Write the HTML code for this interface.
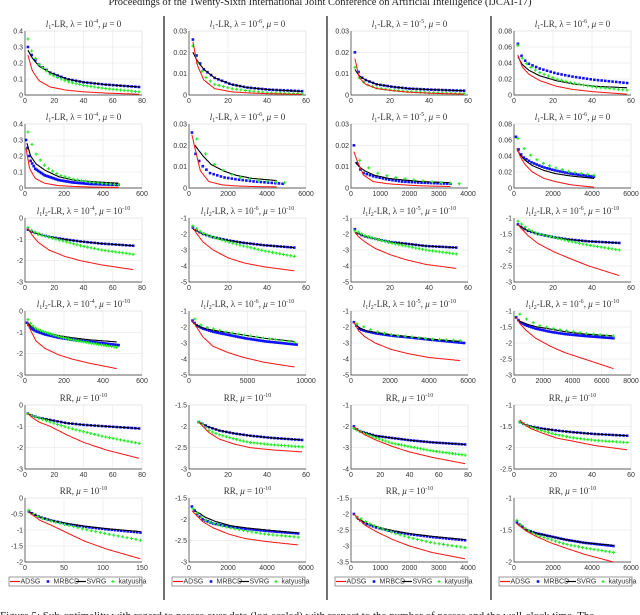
<!DOCTYPE html>
<html><head><meta charset="utf-8">
<style>
html,body{margin:0;padding:0;background:#fff;width:640px;height:615px;overflow:hidden}
svg{display:block}
text{font-family:"Liberation Serif",serif}
.tk{font-family:"Liberation Sans",sans-serif;font-size:7px;fill:#333}
</style></head><body>
<svg id="fig" width="640" height="615" viewBox="0 0 640 615" xmlns="http://www.w3.org/2000/svg">
<text x="320" y="5" text-anchor="middle" font-size="10.5" fill="#222">Proceedings of the Twenty-Sixth International Joint Conference on Artificial Intelligence (IJCAI-17)</text>
<line x1="164" y1="16" x2="164" y2="600" stroke="#444" stroke-width="1.5"/>
<line x1="327" y1="16" x2="327" y2="600" stroke="#444" stroke-width="1.5"/>
<line x1="491" y1="16" x2="491" y2="600" stroke="#444" stroke-width="1.5"/>
<text x="0" y="619" font-size="11" fill="#222">Figure 5: Sub-optimality with regard to passes over data (log-scaled) with respect to the number of passes and the wall-clock time. The</text>
</svg>
<script>
// sample fractions along each series' x-extent
const F=[0,.04,.1,.2,.35,.5,.7,1];
const colL=[25,189,351,514], AW=117, rowT=[31,124,218,311,405,498], AH=64;
// titles
const titles=[
["l1-LR","-4","0"],["l1-LR","-6","0"],["l1-LR","-5","0"],["l1-LR","-6","0"],
["l1-LR","-4","0"],["l1-LR","-6","0"],["l1-LR","-5","0"],["l1-LR","-6","0"],
["l1l2-LR","-4","-10"],["l1l2-LR","-6","-10"],["l1l2-LR","-5","-10"],["l1l2-LR","-6","-10"],
["l1l2-LR","-4","-10"],["l1l2-LR","-6","-10"],["l1l2-LR","-5","-10"],["l1l2-LR","-6","-10"],
["RR","","-10"],["RR","","-10"],["RR","","-10"],["RR","","-10"],
["RR","","-10"],["RR","","-10"],["RR","","-10"],["RR","","-10"]];
// x axis: [max, step]
const xAxes=[[80,20],[60,20],[60,20],[60,20],[600,200],[6000,2000],[4000,1000],[6000,2000],
[80,20],[60,20],[60,20],[60,20],[600,200],[10000,5000],[6000,2000],[8000,2000],
[80,20],[60,20],[80,20],[60,20],[150,50],[6000,2000],[4000,1000],[6000,2000]];
// y axis: [top, bottom, step]
const yAxes=[[.4,0,.1],[.03,0,.01],[.03,0,.01],[.08,0,.02],[.4,0,.1],[.03,0,.01],[.03,0,.01],[.08,0,.02],
[0,-3,1],[-1,-5,1],[-1,-5,1],[-1,-3,.5],[0,-3,1],[-1,-5,1],[-1,-5,1],[-1,-3,.5],
[0,-3,1],[-1.5,-3,.5],[-1,-4,1],[-1,-2.5,.5],[0,-2,.5],[-1.5,-3,.5],[-1.5,-3.5,.5],[-1,-2,.5]];
// series x-extents [start,end]
const adsgX=[[2,78],[2,58],[2,58],[2,58],[5,480],[150,4500],[100,3400],[150,4100],
[2,74],[2,54],[2,54],[2,54],[10,470],[300,9000],[150,5600],[150,6800],
[2,78],[5,58],[2,78],[3,58],[5,148],[150,5600],[100,3900],[150,5100]];
const mrbcdX=[[2,78],[2,58],[2,58],[2,58],[5,480],[150,4800],[100,3400],[100,4100],
[2,74],[2,54],[2,54],[2,54],[10,480],[300,9200],[150,5800],[150,6800],
[2,78],[5,58],[2,78],[3,58],[5,148],[150,5600],[100,3900],[150,5100]];
const svrgX=[[2,78],[2,58],[2,58],[2,58],[10,480],[300,4500],[150,3400],[150,4100],
[2,74],[2,54],[2,54],[2,54],[10,470],[300,9000],[300,5600],[300,6800],
[2,78],[5,58],[2,78],[3,58],[5,148],[300,5600],[200,3900],[150,5100]];
const katyX=[[2,78],[2,58],[2,58],[2,58],[15,480],[400,4900],[300,3700],[200,4100],
[2,74],[2,54],[2,54],[2,54],[15,470],[500,9000],[300,5600],[400,6800],
[2,78],[5,58],[2,78],[3,58],[5,148],[200,5600],[200,3900],[150,5100]];
// series values at the sample fractions
const adsg=[
[.25,.15,.09,.05,.03,.02,.012,.005],[.025,.014,.007,.003,.0015,.001,.0006,.0003],[.017,.008,.005,.003,.002,.0013,.0008,.0004],[.05,.035,.026,.018,.011,.007,.004,.001],
[.25,.12,.06,.03,.015,.01,.006,.004],[.025,.018,.008,.003,.0015,.001,.0007,.0005],[.017,.012,.006,.003,.002,.0015,.001,.0007],[.05,.04,.03,.02,.012,.008,.004,.001],
[-.5,-.8,-1.15,-1.5,-1.8,-2,-2.2,-2.42],[-1.6,-2,-2.5,-3,-3.5,-3.8,-4.05,-4.3],[-1.9,-2.2,-2.5,-2.9,-3.3,-3.6,-3.9,-4.15],[-1.2,-1.35,-1.55,-1.8,-2.05,-2.25,-2.5,-2.8],
[-.5,-.9,-1.4,-1.75,-2.05,-2.25,-2.45,-2.7],[-1.6,-2,-2.6,-3.2,-3.6,-3.9,-4.2,-4.5],[-1.7,-2.2,-2.6,-3,-3.4,-3.65,-3.9,-4.1],[-1.2,-1.4,-1.6,-1.85,-2.1,-2.3,-2.5,-2.8],
[-.4,-.6,-.8,-1,-1.4,-1.75,-2.1,-2.5],[-1.9,-2,-2.15,-2.3,-2.42,-2.5,-2.55,-2.6],[-2,-2.2,-2.4,-2.65,-2.95,-3.2,-3.45,-3.75],[-1.35,-1.45,-1.55,-1.65,-1.78,-1.85,-1.95,-2.05],
[-.45,-.55,-.7,-.85,-1.1,-1.35,-1.6,-1.9],[-1.8,-1.9,-2.05,-2.2,-2.35,-2.45,-2.52,-2.6],[-2,-2.15,-2.35,-2.55,-2.8,-3,-3.2,-3.4],[-1.4,-1.45,-1.52,-1.6,-1.7,-1.78,-1.88,-2]];
const mrbcd=[
[.30,.24,.19,.14,.10,.08,.065,.05],[.026,.017,.012,.008,.005,.0035,.0025,.0018],[.020,.009,.007,.005,.0038,.003,.0025,.002],[.064,.046,.039,.033,.027,.023,.019,.015],
[.30,.18,.12,.08,.05,.035,.025,.02],[.026,.016,.011,.007,.005,.004,.003,.002],[.020,.010,.007,.0055,.004,.003,.0025,.002],[.064,.045,.038,.032,.026,.022,.018,.014],
[-.55,-.65,-.75,-.88,-1,-1.1,-1.2,-1.3],[-1.6,-1.8,-2,-2.2,-2.4,-2.55,-2.7,-2.85],[-1.7,-2,-2.15,-2.3,-2.5,-2.6,-2.75,-2.85],[-1.2,-1.3,-1.4,-1.5,-1.6,-1.67,-1.73,-1.78],
[-.55,-.8,-.95,-1.1,-1.25,-1.35,-1.45,-1.6],[-1.6,-1.9,-2.1,-2.3,-2.5,-2.7,-2.9,-3.1],[-1.7,-2.1,-2.25,-2.4,-2.55,-2.65,-2.8,-3],[-1.2,-1.35,-1.45,-1.55,-1.65,-1.72,-1.78,-1.85],
[-.4,-.5,-.6,-.7,-.85,-.93,-1,-1.1],[-1.9,-1.95,-2.02,-2.1,-2.17,-2.22,-2.27,-2.32],[-2,-2.2,-2.3,-2.45,-2.55,-2.65,-2.75,-2.85],[-1.4,-1.45,-1.5,-1.55,-1.6,-1.64,-1.68,-1.72],
[-.42,-.5,-.6,-.7,-.82,-.9,-.98,-1.08],[-1.7,-1.85,-2,-2.1,-2.17,-2.22,-2.27,-2.33],[-2,-2.15,-2.3,-2.42,-2.55,-2.63,-2.72,-2.82],[-1.38,-1.43,-1.5,-1.55,-1.6,-1.65,-1.7,-1.75]];
const svrg=[
[.28,.23,.18,.14,.10,.08,.065,.05],[.020,.016,.012,.008,.005,.0035,.0025,.0017],[.012,.009,.007,.005,.0038,.003,.0025,.002],[.048,.038,.031,.024,.018,.014,.011,.009],
[.28,.20,.15,.11,.07,.05,.04,.03],[.020,.018,.015,.011,.008,.006,.0045,.0035],[.012,.01,.008,.006,.0045,.0038,.003,.0025],[.048,.042,.035,.028,.022,.018,.015,.012],
[-.55,-.65,-.75,-.88,-1,-1.1,-1.2,-1.3],[-1.7,-1.8,-2,-2.2,-2.4,-2.55,-2.7,-2.85],[-1.9,-2,-2.15,-2.3,-2.5,-2.6,-2.75,-2.85],[-1.2,-1.3,-1.4,-1.5,-1.6,-1.67,-1.73,-1.78],
[-.5,-.7,-.85,-1,-1.15,-1.25,-1.35,-1.45],[-1.7,-1.9,-2.05,-2.2,-2.35,-2.5,-2.7,-2.9],[-1.9,-2.1,-2.25,-2.35,-2.5,-2.6,-2.75,-2.9],[-1.3,-1.35,-1.42,-1.5,-1.57,-1.65,-1.72,-1.78],
[-.4,-.5,-.6,-.7,-.85,-.93,-1,-1.1],[-1.9,-1.95,-2.02,-2.1,-2.17,-2.22,-2.27,-2.32],[-2.1,-2.2,-2.3,-2.45,-2.55,-2.65,-2.75,-2.85],[-1.4,-1.45,-1.5,-1.55,-1.6,-1.64,-1.68,-1.72],
[-.42,-.5,-.6,-.7,-.8,-.88,-.96,-1.05],[-1.8,-1.85,-1.95,-2.05,-2.15,-2.2,-2.25,-2.32],[-2.15,-2.2,-2.3,-2.42,-2.53,-2.62,-2.7,-2.8],[-1.4,-1.45,-1.5,-1.55,-1.6,-1.65,-1.7,-1.74]];
const katyusha=[
[.35,.26,.19,.13,.085,.06,.04,.02],[.023,.015,.009,.005,.003,.002,.001,.0006],[.013,.008,.005,.0033,.0022,.0016,.0011,.0007],[.062,.046,.036,.028,.02,.015,.01,.006],
[.35,.28,.20,.13,.08,.055,.035,.02],[.023,.022,.016,.011,.007,.005,.0035,.0025],[.013,.012,.009,.0065,.005,.004,.003,.002],[.062,.055,.047,.038,.03,.025,.02,.016],
[-.45,-.6,-.75,-.9,-1.1,-1.3,-1.5,-1.7],[-1.5,-1.7,-1.95,-2.2,-2.5,-2.75,-3.05,-3.4],[-1.8,-1.9,-2.1,-2.3,-2.55,-2.75,-3,-3.25],[-1.1,-1.2,-1.35,-1.5,-1.6,-1.72,-1.85,-2],
[-.4,-.65,-.85,-1,-1.2,-1.35,-1.5,-1.7],[-1.5,-1.8,-2,-2.15,-2.35,-2.5,-2.7,-2.95],[-1.8,-1.9,-2.1,-2.3,-2.5,-2.6,-2.75,-2.85],[-1.1,-1.2,-1.3,-1.45,-1.55,-1.62,-1.7,-1.78],
[-.4,-.5,-.62,-.8,-1.05,-1.25,-1.5,-1.8],[-1.9,-1.97,-2.1,-2.2,-2.3,-2.38,-2.43,-2.48],[-2.1,-2.2,-2.35,-2.55,-2.8,-2.95,-3.15,-3.35],[-1.4,-1.45,-1.52,-1.6,-1.7,-1.77,-1.83,-1.88],
[-.38,-.5,-.62,-.72,-.85,-.98,-1.12,-1.32],[-1.75,-1.85,-2,-2.1,-2.2,-2.27,-2.35,-2.42],[-2.1,-2.15,-2.28,-2.42,-2.6,-2.75,-2.9,-3.05],[-1.35,-1.42,-1.5,-1.58,-1.65,-1.72,-1.78,-1.85]];
// marker counts
const blueCount=[30,30,30,30,60,25,30,30, 30,30,30,30,60,50,45,45, 30,30,35,30,35,40,35,35];
const greenCount=[30,25,25,25,22,10,11,12, 30,28,30,28,35,16,15,14, 30,30,35,30,25,25,25,25];

const NS="http://www.w3.org/2000/svg";
const svg=document.getElementById('fig');
function mk(tag,attrs,parent){const e=document.createElementNS(NS,tag);for(const k in attrs)e.setAttribute(k,attrs[k]);(parent||svg).appendChild(e);return e;}
function fmt(v){let s=(Math.round(v*1000)/1000).toString();return s.replace(/^(-?)0\./,'$1.').replace(/^-\./,'-0.').replace(/^\./,'0.');}
function interp(ext,vals,t){
  for(let i=0;i<F.length-1;i++){if(t<=F[i+1]){const u=(t-F[i])/(F[i+1]-F[i]);return [ext[0]+(ext[1]-ext[0])*t, vals[i]+(vals[i+1]-vals[i])*u];}}
  return [ext[1],vals[vals.length-1]];
}
function curve(ext,vals,n){const p=[];for(let k=0;k<=n;k++){p.push(interp(ext,vals,k/n));}return p;}

for(let i=0;i<24;i++){
  const r=Math.floor(i/4),c=i%4;
  const L=colL[c],T=rowT[r];
  const [xmax,xstep]=xAxes[i],[yt,yb,ys]=yAxes[i];
  const sx=v=>L+v/xmax*AW, sy=v=>T+(yt-v)/(yt-yb)*AH;
  const g=mk('g',{});
  
  
  const bg=mk('rect',{x:L,y:T,width:AW,height:AH,fill:'#fff',stroke:'#d8d8d8','stroke-width':0.6},g);
  
  
  for(let v=0;v<=xmax+1e-9;v+=xstep){
    const x=sx(v);
    if(v>0&&v<xmax){const gl=mk('line',{x1:x,y1:T,x2:x,y2:T+AH,stroke:'#e6e6e6','stroke-width':0.6},g);}
    const t=mk('text',{x:x,y:T+AH+8,'text-anchor':'middle',class:'tk'},g);t.textContent=fmt(v);
    
  }
  const nY=Math.round((yt-yb)/ys);
  for(let k=0;k<=nY;k++){
    const v=yt-k*ys,y=sy(v);
    if(k>0&&k<nY){const gl=mk('line',{x1:L,y1:y,x2:L+AW,y2:y,stroke:'#e6e6e6','stroke-width':0.6},g);}
    const t=mk('text',{x:L-2,y:y+2.5,'text-anchor':'end',class:'tk'},g);t.textContent=fmt(v);
    
  }
  const ax=mk('path',{d:`M${L},${T}V${T+AH}H${L+AW}`,stroke:'#333','stroke-width':0.7,fill:'none'},g);
  
  const [nm,lam,mu]=titles[i];
  const tt=mk('text',{x:L+AW/2,y:T-4,'text-anchor':'middle','font-size':9,fill:'#333'},g);
  
  let html='';
  if(nm==='RR') html='RR, <tspan font-style="italic">μ</tspan> = 10<tspan font-size="6" dy="-4">'+mu+'</tspan>';
  else{
    const pre=nm==='l1-LR'?'<tspan font-style="italic">l</tspan><tspan font-size="6" dy="2">1</tspan><tspan dy="-2">-LR, </tspan>':'<tspan font-style="italic">l</tspan><tspan font-size="6" dy="2">1</tspan><tspan font-style="italic" dy="-2">l</tspan><tspan font-size="6" dy="2">2</tspan><tspan dy="-2">-LR, </tspan>';
    html=pre+'λ = 10<tspan font-size="6" dy="-4">'+lam+'</tspan><tspan dy="4">, </tspan><tspan font-style="italic">μ</tspan> = '+(mu==='0'?'0':'10<tspan font-size="6" dy="-4">'+mu+'</tspan>');
  }
  tt.innerHTML=html;
  const toPts=p=>p.map(q=>sx(q[0]).toFixed(1)+','+sy(q[1]).toFixed(1)).join(' ');
  curve(mrbcdX[i],mrbcd[i],blueCount[i]).forEach(q=>{
    const m=mk('rect',{x:sx(q[0])-1.3,y:sy(q[1])-1.3,width:2.6,height:2.6,fill:'#1010ff'},g);
    
  });
  const kl=mk('polyline',{points:toPts(curve(svrgX[i],svrg[i],80)),fill:'none',stroke:'#000','stroke-width':1.1},g);
  
  curve(katyX[i],katyusha[i],greenCount[i]).forEach(q=>{
    const x=sx(q[0]),y=sy(q[1]);
    const m=mk('path',{d:`M${x-1.6},${y}H${x+1.6}M${x},${y-1.6}V${y+1.6}`,stroke:'#22ee22','stroke-width':1.1},g);
    
  });
  const rl=mk('polyline',{points:toPts(curve(adsgX[i],adsg[i],80)),fill:'none',stroke:'#ff1010','stroke-width':1},g);
  
}
// legends
const legL=[9,172,335,499];
const legOff=[1,34,67,99];
legL.forEach((lx,c)=>{
  const g=mk('g',{});
  
  
  mk('rect',{x:lx,y:577,width:133,height:9,fill:'#fff',stroke:'#555','stroke-width':0.6},g);
  const y=581.5;
  const e=[['ADSG','line','#ff1010'],['MRBCD','sq','#1010ff'],['SVRG','line','#000'],['katyusha','plus','#22ee22']];
  e.forEach((d,k)=>{
    const x0=lx+legOff[k];
    const eg=mk('g',{},g);
    
    
    if(d[1]==='line')mk('line',{x1:x0,y1:y,x2:x0+10,y2:y,stroke:d[2],'stroke-width':1.2},eg);
    else if(d[1]==='sq')mk('rect',{x:x0+3.7,y:y-1.3,width:2.6,height:2.6,fill:d[2]},eg);
    else mk('path',{d:`M${x0+3.5},${y}H${x0+6.5}M${x0+5},${y-1.5}V${y+1.5}`,stroke:d[2],'stroke-width':1.1},eg);
    const t=mk('text',{x:x0+10.5,y:y+2.2,class:'tk','font-size':6},eg);t.textContent=d[0];
  });
});
</script>
</body></html>
